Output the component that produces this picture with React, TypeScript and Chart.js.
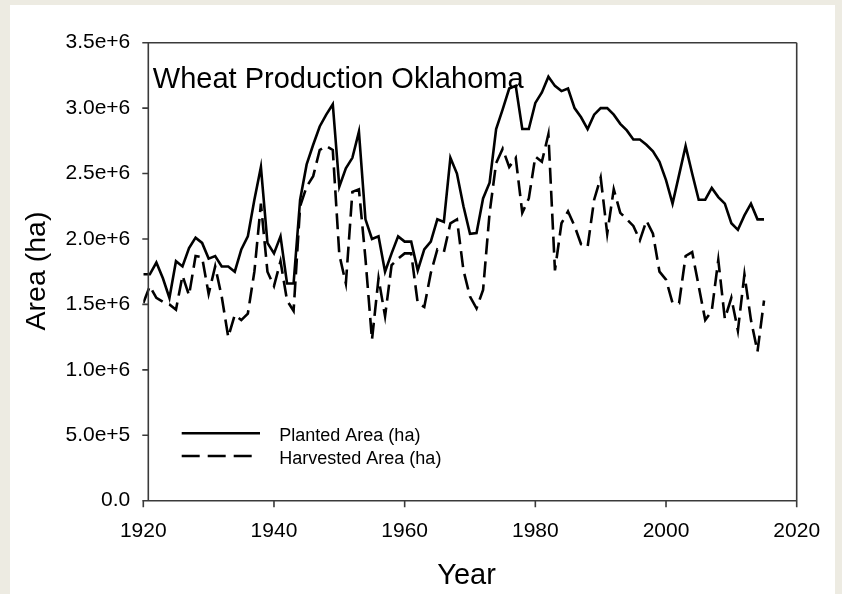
import React, { useEffect, useRef } from "react";
import { Chart, registerables } from "chart.js";

Chart.register(...registerables);

const years = [
  1920, 1921, 1922, 1923, 1924, 1925, 1926, 1927, 1928, 1929,
  1930, 1931, 1932, 1933, 1934, 1935, 1936, 1937, 1938, 1939,
  1940, 1941, 1942, 1943, 1944, 1945, 1946, 1947, 1948, 1949,
  1950, 1951, 1952, 1953, 1954, 1955, 1956, 1957, 1958, 1959,
  1960, 1961, 1962, 1963, 1964, 1965, 1966, 1967, 1968, 1969,
  1970, 1971, 1972, 1973, 1974, 1975, 1976, 1977, 1978, 1979,
  1980, 1981, 1982, 1983, 1984, 1985, 1986, 1987, 1988, 1989,
  1990, 1991, 1992, 1993, 1994, 1995, 1996, 1997, 1998, 1999,
  2000, 2001, 2002, 2003, 2004, 2005, 2006, 2007, 2008, 2009,
  2010, 2011, 2012, 2013, 2014, 2015,
];

const plantedArea = [
  1730000, 1730000, 1820000, 1700000, 1550000, 1830000, 1790000, 1930000, 2010000, 1970000,
  1850000, 1870000, 1790000, 1790000, 1750000, 1920000, 2020000, 2300000, 2550000, 1970000,
  1890000, 2020000, 1660000, 1660000, 2300000, 2570000, 2720000, 2860000, 2950000, 3030000,
  2400000, 2540000, 2620000, 2820000, 2150000, 2000000, 2020000, 1750000, 1890000, 2020000,
  1980000, 1980000, 1760000, 1920000, 1980000, 2150000, 2130000, 2620000, 2500000, 2250000,
  2040000, 2045000, 2310000, 2430000, 2840000, 2990000, 3150000, 3170000, 2840000, 2840000,
  3040000, 3120000, 3240000, 3170000, 3130000, 3150000, 3000000, 2930000, 2840000, 2950000,
  3000000, 3000000, 2950000, 2880000, 2830000, 2760000, 2760000, 2720000, 2670000, 2590000,
  2450000, 2270000, 2490000, 2710000, 2500000, 2300000, 2300000, 2390000, 2320000, 2270000,
  2120000, 2070000, 2180000, 2270000, 2150000, 2150000,
];

const harvestedArea = [
  1510000, 1640000, 1550000, 1520000, 1500000, 1460000, 1720000, 1570000, 1870000, 1860000,
  1580000, 1790000, 1560000, 1250000, 1420000, 1380000, 1430000, 1750000, 2270000, 1750000,
  1640000, 1830000, 1530000, 1450000, 2250000, 2400000, 2480000, 2680000, 2710000, 2680000,
  1880000, 1660000, 2360000, 2380000, 1850000, 1230000, 1700000, 1410000, 1800000, 1850000,
  1890000, 1890000, 1510000, 1480000, 1740000, 1920000, 1900000, 2120000, 2150000, 1760000,
  1560000, 1470000, 1610000, 2200000, 2580000, 2690000, 2550000, 2620000, 2200000, 2310000,
  2630000, 2590000, 2800000, 1760000, 2120000, 2210000, 2100000, 1960000, 1940000, 2300000,
  2470000, 2040000, 2380000, 2200000, 2150000, 2100000, 1990000, 2140000, 2040000, 1750000,
  1690000, 1510000, 1510000, 1870000, 1900000, 1640000, 1380000, 1450000, 1840000, 1390000,
  1550000, 1300000, 1730000, 1380000, 1140000, 1530000,
];

const seriesLabels = ["Planted Area (ha)", "Harvested Area (ha)"];
const xTickValues = [1920, 1940, 1960, 1980, 2000, 2020];
const yTickValues = [0, 500000, 1000000, 1500000, 2000000, 2500000, 3000000, 3500000];
const yTickLabels = ["0.0", "5.0e+5", "1.0e+6", "1.5e+6", "2.0e+6", "2.5e+6", "3.0e+6", "3.5e+6"];
const chartTitle = "Wheat Production Oklahoma";
const xAxisTitle = "Year";
const yAxisTitle = "Area (ha)";

const FONT = '"Liberation Sans", Arial, Helvetica, sans-serif';
const AXIS_COLOR = "#3a3a3a";
const DASH = [16, 7];

const framePlugin = {
  id: "sigmaFrame",
  afterDraw(chart: any) {
    const ctx = chart.ctx as CanvasRenderingContext2D;
    const area = chart.chartArea;
    const xs = chart.scales.x;
    const ys = chart.scales.y;
    const yAxisX = area.left + 5;
    ctx.save();
    ctx.strokeStyle = AXIS_COLOR;
    ctx.lineWidth = 1.6;
    ctx.setLineDash([]);
    ctx.lineCap = "butt";
    ctx.beginPath();
    // left axis (offset)
    ctx.moveTo(yAxisX, area.top);
    ctx.lineTo(yAxisX, area.bottom);
    // top
    ctx.moveTo(yAxisX, area.top);
    ctx.lineTo(area.right, area.top);
    // right
    ctx.moveTo(area.right, area.top);
    ctx.lineTo(area.right, area.bottom);
    // bottom
    ctx.moveTo(area.left, area.bottom);
    ctx.lineTo(area.right, area.bottom);
    // y ticks
    for (const v of yTickValues) {
      const py = ys.getPixelForValue(v);
      ctx.moveTo(area.left - 1, py);
      ctx.lineTo(yAxisX, py);
    }
    // x ticks
    for (const v of xTickValues) {
      const px = xs.getPixelForValue(v);
      ctx.moveTo(px, area.bottom);
      ctx.lineTo(px, area.bottom + 6.5);
    }
    ctx.stroke();

    // title inside plot
    ctx.fillStyle = "#000";
    ctx.textAlign = "left";
    ctx.textBaseline = "alphabetic";
    ctx.font = `29px ${FONT}`;
    ctx.fillText(chartTitle, area.left + 9.5, 88.3);

    // x axis title
    ctx.textAlign = "center";
    ctx.fillText(xAxisTitle, 466.5, 584);

    // y axis title
    ctx.save();
    ctx.translate(45, 271);
    ctx.rotate(-Math.PI / 2);
    ctx.textAlign = "center";
    ctx.font = `28.5px ${FONT}`;
    ctx.fillText(yAxisTitle, 0, 0);
    ctx.restore();

    // legend
    ctx.strokeStyle = "#000";
    ctx.lineWidth = 2.5;
    ctx.beginPath();
    ctx.moveTo(181.7, 433.3);
    ctx.lineTo(260, 433.3);
    ctx.stroke();
    ctx.setLineDash([18, 8]);
    ctx.beginPath();
    ctx.moveTo(181.7, 456);
    ctx.lineTo(252, 456);
    ctx.stroke();
    ctx.setLineDash([]);
    ctx.font = `18px ${FONT}`;
    ctx.textAlign = "left";
    ctx.fillText(seriesLabels[0], 279.3, 440.7);
    ctx.fillText(seriesLabels[1], 279.3, 463.5);
    ctx.restore();
  },
};

export default function App() {
  const canvasRef = useRef<HTMLCanvasElement | null>(null);

  useEffect(() => {
    const canvas = canvasRef.current;
    if (!canvas) return;
    const chart = new Chart(canvas, {
      type: "line",
      data: {
        datasets: [
          {
            label: seriesLabels[0],
            data: years.map((yr, i) => ({ x: yr, y: plantedArea[i] })),
            borderColor: "#000",
            borderWidth: 2.6,
            pointRadius: 0,
            tension: 0,
            fill: false,
            borderJoinStyle: "miter",
          },
          {
            label: seriesLabels[1],
            data: years.map((yr, i) => ({ x: yr, y: harvestedArea[i] })),
            borderColor: "#000",
            borderWidth: 2.6,
            borderDash: DASH,
            pointRadius: 0,
            tension: 0,
            fill: false,
            borderJoinStyle: "miter",
          },
        ],
      },
      options: {
        animation: false,
        responsive: false,
        devicePixelRatio: 1,
        layout: { padding: { top: 42.7, right: 45.3, left: 0, bottom: 0 } },
        plugins: {
          legend: { display: false },
          title: { display: false },
          tooltip: { enabled: false },
        },
        scales: {
          x: {
            type: "linear",
            min: 1920,
            max: 2020,
            grid: { display: false, drawTicks: false },
            border: { display: false },
            afterBuildTicks: (scale: any) => {
              scale.ticks = xTickValues.map((v) => ({ value: v }));
            },
            afterFit: (scale: any) => {
              scale.height = 594 - 500.7;
            },
            ticks: {
              autoSkip: false,
              maxRotation: 0,
              padding: 18,
              color: "#000",
              font: { family: FONT, size: 21 },
              callback: (v: any) => String(v),
            },
          },
          y: {
            type: "linear",
            min: 0,
            max: 3500000,
            grid: { display: false, drawTicks: false },
            border: { display: false },
            afterBuildTicks: (scale: any) => {
              scale.ticks = yTickValues.map((v) => ({ value: v }));
            },
            afterFit: (scale: any) => {
              scale.width = 143.3;
            },
            ticks: {
              autoSkip: false,
              padding: 13,
              color: "#000",
              font: { family: FONT, size: 21 },
              callback: (v: any) => {
                const idx = yTickValues.indexOf(Number(v));
                return idx >= 0 ? yTickLabels[idx] : "";
              },
            },
          },
        },
      },
      plugins: [framePlugin],
    });
    return () => chart.destroy();
  }, []);

  return (
    <div
      style={{
        position: "fixed",
        left: 0,
        top: 0,
        width: 842,
        height: 594,
        background: "#edebe2",
        overflow: "hidden",
      }}
    >
      <div
        style={{
          position: "absolute",
          left: 10,
          top: 5,
          width: 825,
          height: 589,
          background: "#ffffff",
        }}
      />
      <canvas
        ref={canvasRef}
        width={842}
        height={594}
        style={{ position: "absolute", left: 0, top: 0, width: 842, height: 594 }}
      />
    </div>
  );
}
